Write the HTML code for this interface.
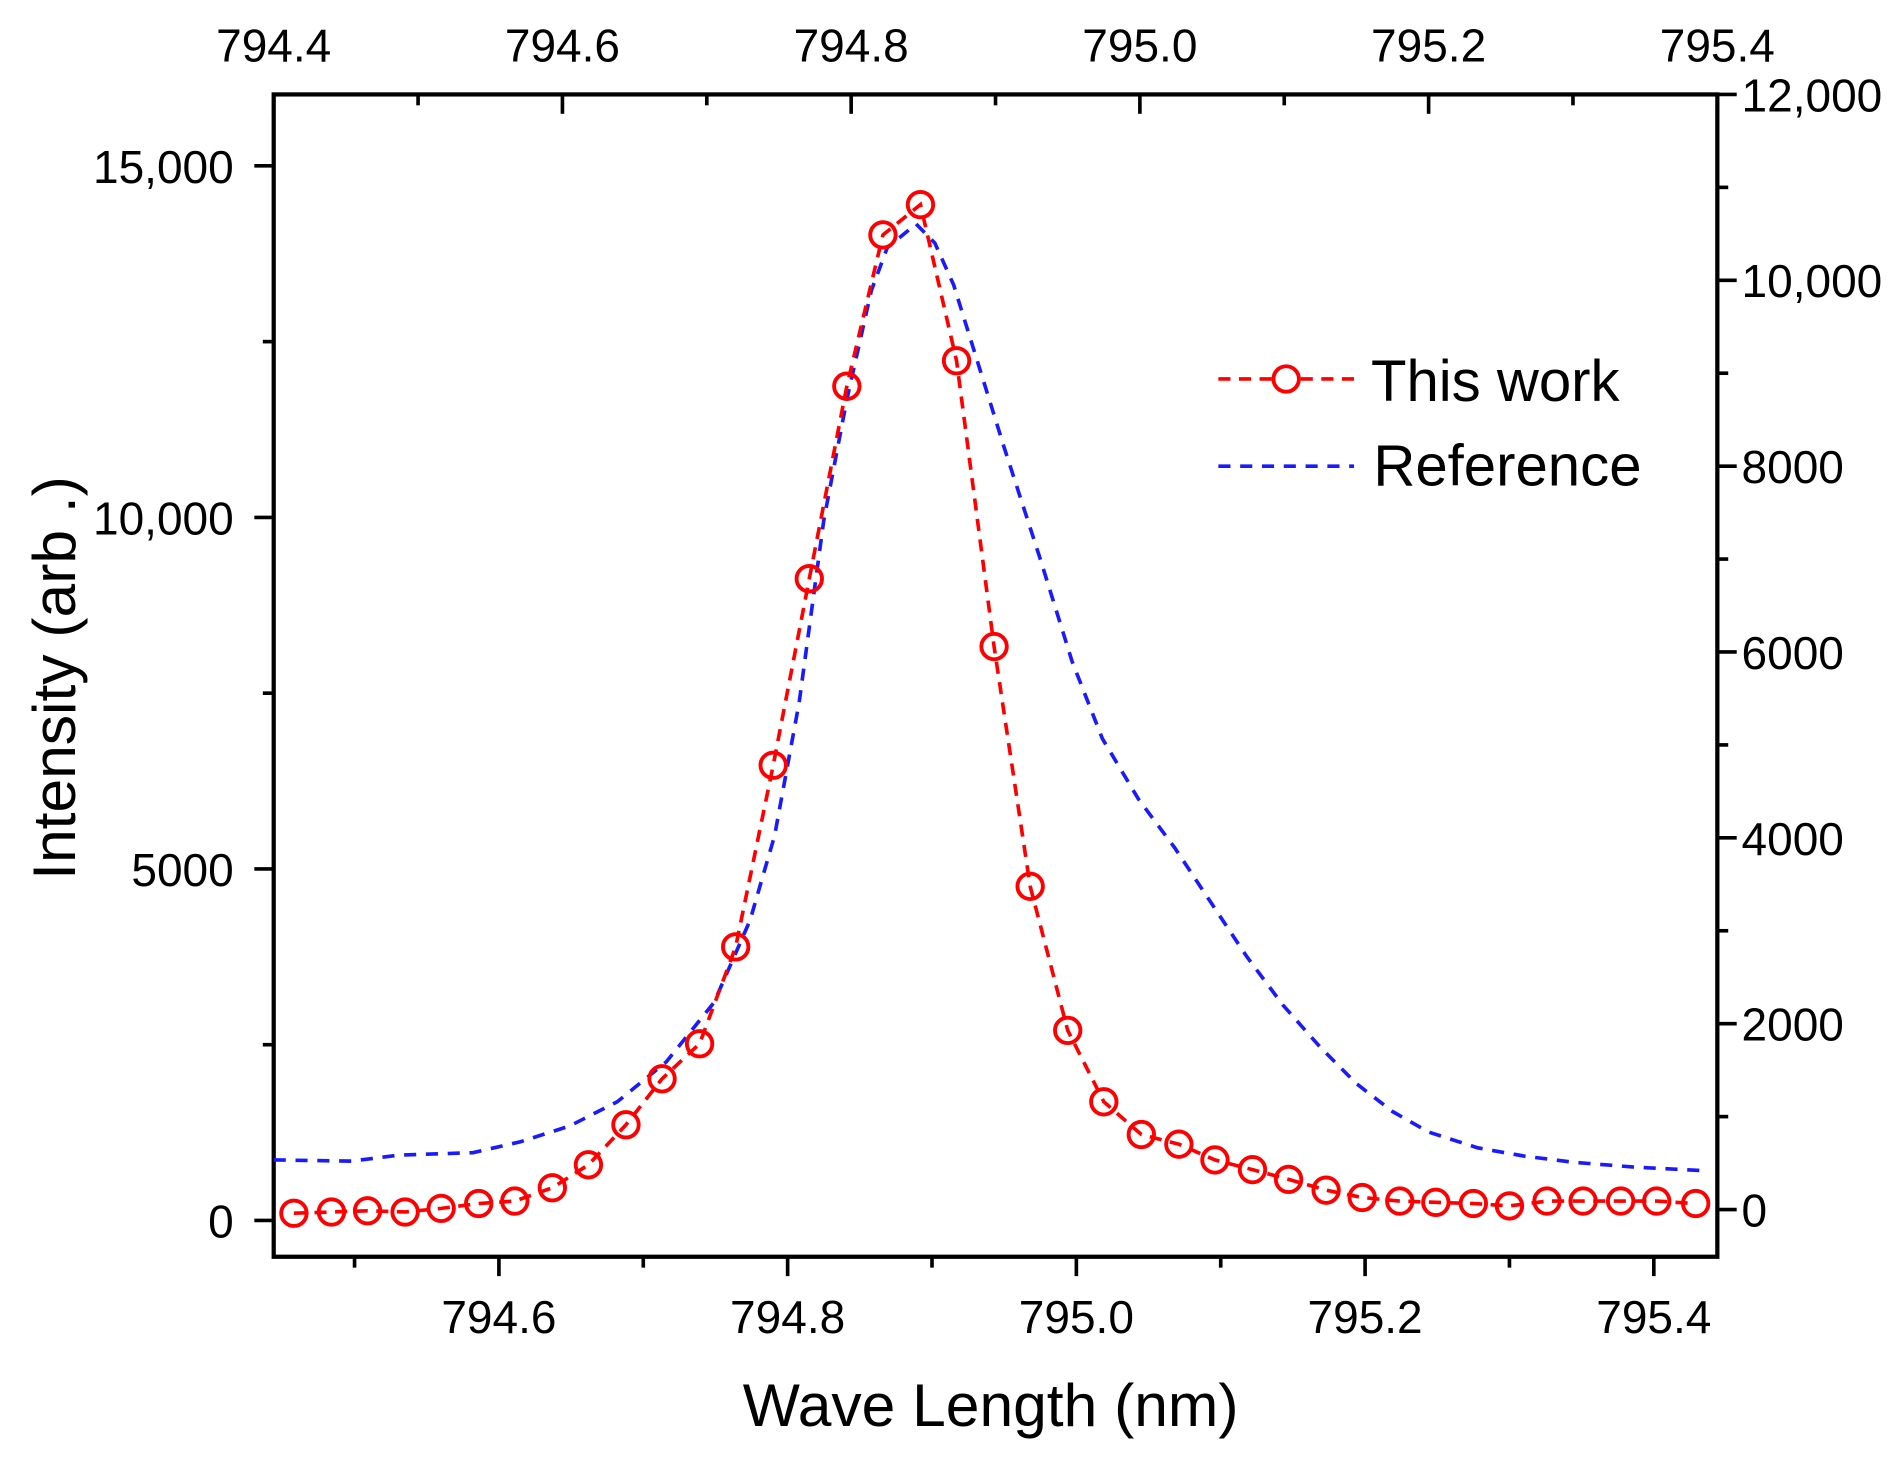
<!DOCTYPE html>
<html><head><meta charset="utf-8"><style>
html,body{margin:0;padding:0;background:#fff;}
svg{display:block;font-family:"Liberation Sans",Arial,sans-serif;}
</style></head><body>
<svg id="chart" width="1899" height="1465" viewBox="0 0 1568 1210" preserveAspectRatio="none" xmlns="http://www.w3.org/2000/svg"></svg>
<script>
const redX=[794.458,794.484,794.509,794.535,794.560,794.586,794.611,794.637,794.662,794.688,794.713,794.739,794.764,794.790,794.815,794.841,794.866,794.892,794.917,794.943,794.968,794.994,795.019,795.045,795.071,795.096,795.122,795.147,795.173,795.198,795.224,795.249,795.275,795.300,795.326,795.351,795.377,795.402,795.429];
const redY=[103,121,138,121,172,241,276,465,792,1361,2015,2514,3892,6475,9128,11866,14018,14449,12228,8163,4753,2704,1688,1223,1085,861,723,585,431,327,276,258,241,207,276,276,276,276,241];
const blueX=[794.444,794.498,794.531,794.582,794.615,794.649,794.682,794.716,794.749,794.774,794.791,794.808,794.825,794.841,794.858,794.869,794.889,794.902,794.915,794.930,794.950,794.975,794.997,795.018,795.043,795.068,795.093,795.118,795.143,795.169,795.194,795.219,795.244,795.278,795.311,795.345,795.387,795.437];
const blueY=[534,521,586,612,730,899,1160,1590,2228,3114,4026,5459,7414,8717,9890,10350,10606,10400,9950,9200,8200,7000,5900,5068,4417,3896,3309,2723,2202,1746,1355,1055,834,664,573,508,456,417];
const bottomTicks=["794.6","794.8","795.0","795.2","795.4"];
const topTicks=["794.4","794.6","794.8","795.0","795.2","795.4"];
const leftTicks=[0,5000,10000,15000];
const leftLabels=["0","5000","10,000","15,000"];
const rightTicks=[0,2000,4000,6000,8000,10000,12000];
const rightLabels=["0","2000","4000","6000","8000","10,000","12,000"];

const L=226,R=1418,T=78,B=1038;
const xB=v=>L+(v-794.444)/1.0*(R-L);
const xT=v=>L+(v-794.4)/1.0*(R-L);
const yL=v=>B-(v+516)/(16016+516)*(B-T);
const yR=v=>B-(v+508)/(12000+508)*(B-T);
const svg=document.getElementById('chart');
const NS='http://www.w3.org/2000/svg';
function mk(tag,attrs,parent){const e=document.createElementNS(NS,tag);for(const k in attrs)e.setAttribute(k,attrs[k]);(parent||svg).appendChild(e);return e;}
function txt(s,x,y,size,anchor,parent){const t=mk('text',{x:x,y:y,'font-size':size,'text-anchor':anchor,fill:'#000'},parent);t.textContent=s;return t;}

const axes=mk('g',{stroke:'#000','stroke-width':3});


bottomTicks.forEach((s,i)=>{const v=parseFloat(s),x=xB(v);mk('line',{x1:x,y1:B,x2:x,y2:B+16},axes);const mx=xB(v-0.1);mk('line',{x1:mx,y1:B,x2:mx,y2:B+9},axes);
 const t=txt(s,x,B+63,38,'middle');});
topTicks.forEach((s,i)=>{const v=parseFloat(s),x=xT(v);mk('line',{x1:x,y1:T,x2:x,y2:T+16},axes);if(v<795.4){const mx=xT(v+0.1);mk('line',{x1:mx,y1:T,x2:mx,y2:T+9},axes);}
 const t=txt(s,x,T-27,38,'middle');});
leftTicks.forEach((v,i)=>{const y=yL(v);mk('line',{x1:L-16,y1:y,x2:L,y2:y},axes);const my=yL(v+2500);if(v<15000)mk('line',{x1:L-9,y1:my,x2:L,y2:my},axes);
 const t=txt(leftLabels[i],L-33,y+14,38,'end');});
rightTicks.forEach((v,i)=>{const y=yR(v);mk('line',{x1:R,y1:y,x2:R+16,y2:y},axes);if(v<12000){const my=yR(v+1000);mk('line',{x1:R,y1:my,x2:R+9,y2:my},axes);}
 const t=txt(rightLabels[i],R+20,y+14,38,'start');});
const frame=mk('rect',{x:L,y:T,width:R-L,height:B-T,fill:'none',stroke:'#000','stroke-width':3.5});



const bp=mk('polyline',{points:blueX.map((v,i)=>xB(v)+','+yR(blueY[i])).join(' '),fill:'none',stroke:'#1a1aff','stroke-width':3,'stroke-dasharray':'10 8','stroke-linejoin':'round'});


const rp=mk('polyline',{points:redX.map((v,i)=>xB(v)+','+yL(redY[i])).join(' '),fill:'none',stroke:'#ff0000','stroke-width':3,'stroke-dasharray':'10 7'});


redX.forEach((v,i)=>{const c=mk('circle',{cx:xB(v),cy:yL(redY[i]),r:10.5,fill:'none',stroke:'#ff0000','stroke-width':3.2});
 
 });

const lg=mk('g',{});


mk('line',{x1:1006,y1:313,x2:1118,y2:313,stroke:'#ff0000','stroke-width':3,'stroke-dasharray':'10 7'},lg);
mk('circle',{cx:1062,cy:313,r:10.5,fill:'#fff',stroke:'#ff0000','stroke-width':3.2},lg);
txt('This work',1132,331,48,'start',lg);
mk('line',{x1:1006,y1:385,x2:1118,y2:385,stroke:'#1a1aff','stroke-width':3,'stroke-dasharray':'10 8'},lg);
txt('Reference',1134,401,48,'start',lg);

const xt=txt('Wave Length (nm)',818,1178,50,'middle');


const yt=txt('Intensity (arb .)',0,0,50,'middle');
yt.setAttribute('transform','translate(62,560) rotate(-90)');


</script>
</body></html>
